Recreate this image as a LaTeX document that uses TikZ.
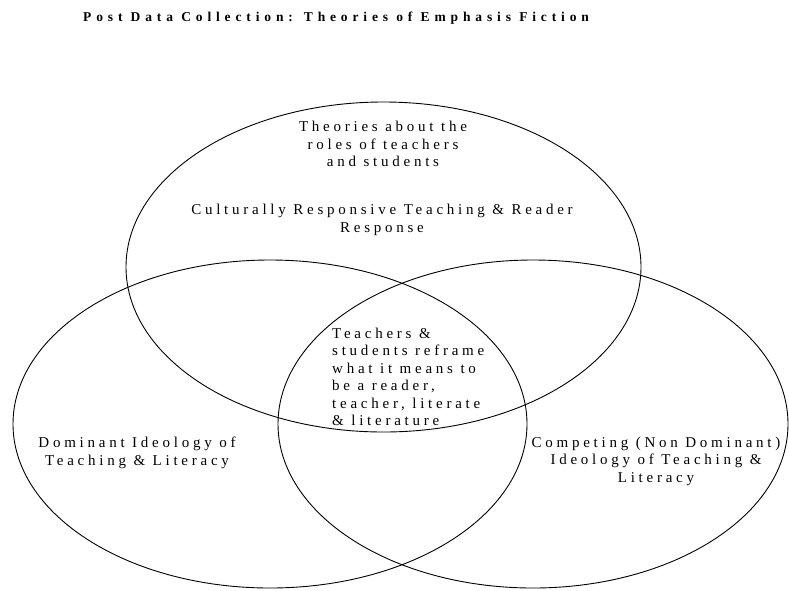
\documentclass[tikz,border=0pt]{standalone}
\usepackage{fontspec}
\setmainfont{Liberation Serif}
\newfontfamily\bodyfont[LetterSpace=25]{Liberation Serif}
\newfontfamily\titlefont[LetterSpace=36]{Liberation Serif}
\begin{document}
\begin{tikzpicture}[x=1pt,y=-1pt,
  ring/.style={draw=black,line width=0.9pt},
  lbl/.style={inner sep=0pt,font=\bodyfont\fontsize{15}{17.5}\selectfont}]
\useasboundingbox[fill=white] (0,0) rectangle (789,590);
\draw[ring] (383.5,267) ellipse [x radius=257.5pt, y radius=165pt];
\draw[ring] (270,424) ellipse [x radius=257pt, y radius=164pt];
\draw[ring] (533,424) ellipse [x radius=255pt, y radius=164pt];
\node[inner sep=0pt,anchor=west,font=\titlefont\bfseries\fontsize{13.5}{16}\selectfont] (title) at (83,18) {Post Data Collection: Theories of Emphasis Fiction};
\node[lbl,align=center] (roles) at (383,144) {Theories about the\\roles of teachers\\and students};
\node[lbl,align=center] (crt) at (382,220) {Culturally Responsive Teaching \& Reader\\Response};
\node[lbl,align=left,anchor=west] (mid) at (332,377) {Teachers \&\\students reframe\\what it means to\\be a reader,\\teacher, literate\\\& literature};
\node[lbl,align=center] (dom) at (137,453) {Dominant Ideology of\\Teaching \& Literacy};
\node[lbl,align=center] (comp) at (656,461) {Competing (Non Dominant)\\Ideology of Teaching \&\\Literacy};
\end{tikzpicture}
\end{document}
